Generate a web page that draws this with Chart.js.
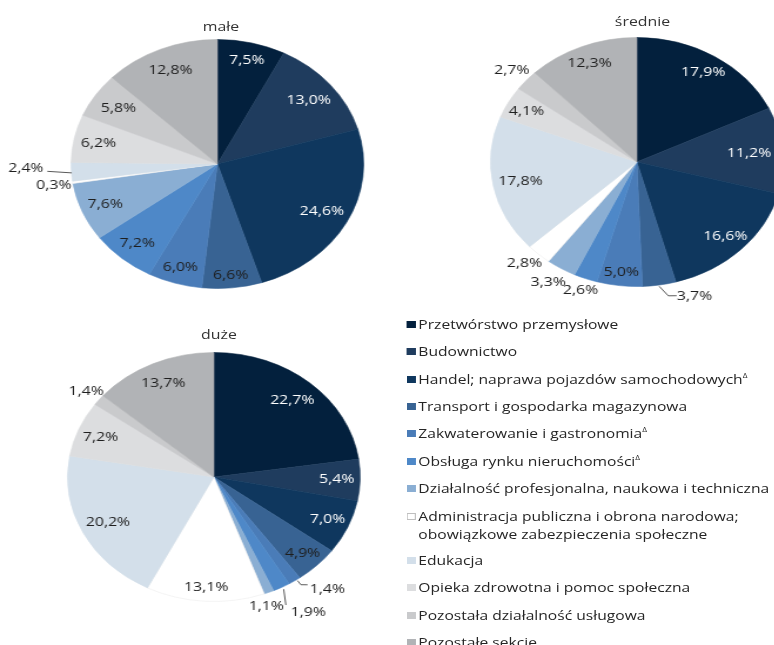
<!DOCTYPE html>
<html><head><meta charset="utf-8">
<script src="https://cdn.jsdelivr.net/npm/chart.js@4.4.0/dist/chart.umd.min.js"></script>
<style>
html,body{margin:0;padding:0;background:#fff;overflow:hidden;width:774px;height:645px;}
#stage{position:absolute;left:0;top:0;width:660px;height:645px;transform:scaleX(1.175);transform-origin:0 0;font-family:"Open Sans",sans-serif;color:#262626;}
.title{position:absolute;font-size:13.5px;transform:translate(-50%,-50%);white-space:nowrap;color:#333;}
canvas{position:absolute;}
.leg{position:absolute;left:356px;font-size:13.3px;line-height:18.5px;white-space:pre;color:#262626;}
.sw{position:absolute;left:-10px;top:6px;width:8px;height:7px;box-sizing:border-box;}
.leg sup{font-size:7px;vertical-align:6px;line-height:0;}
</style></head>
<body>
<div id="stage"></div>
<script>
// ---- data ----
const categories = [
  "Przetwórstwo przemysłowe",
  "Budownictwo",
  "Handel; naprawa pojazdów samochodowychΔ",
  "Transport i gospodarka magazynowa",
  "Zakwaterowanie i gastronomiaΔ",
  "Obsługa rynku nieruchomościΔ",
  "Działalność profesjonalna, naukowa i techniczna",
  "Administracja publiczna i obrona narodowa;\nobowiązkowe zabezpieczenia społeczne",
  "Edukacja",
  "Opieka zdrowotna i pomoc społeczna",
  "Pozostała działalność usługowa",
  "Pozostałe sekcje"
];
const chartTitles = ["małe", "średnie", "duże"];
const maleValues    = [7.5, 13.0, 24.6, 6.6, 6.0, 7.2, 7.6, 0.3, 2.4, 6.2, 5.8, 12.8];
const srednieValues = [17.9, 11.2, 16.6, 3.7, 5.0, 2.6, 3.3, 2.8, 17.8, 4.1, 2.7, 12.3];
const duzeValues    = [22.7, 5.4, 7.0, 4.9, 1.4, 1.9, 1.1, 13.1, 20.2, 7.2, 1.4, 13.7];

// ---- style ----
const colors = ["#03203d","#1f3c5e","#0f375e","#386393","#4a7cb8","#4e88c8","#8aaed3","#ffffff","#d3dfea","#dcdddf","#c9cacc","#b1b3b6"];
const edgeColors = colors.map(c => c === '#ffffff' ? '#ececec' : c);
const S = 1.175; // horizontal stretch of the whole picture
const R = 124.5;

// label placement: radial fraction of the radius at the slice mid-angle, optional angle offset (deg),
// leader lines as [angle clockwise from top (deg), radial fraction]
const placeMale = [0.86,0.81,0.81,0.9,0.87,0.84,0.83,{r:1.13},
  {r:1.31,off:2,lead:[[267.1,1.164],[265.9,0.998]]},0.83,0.81,0.82];
const placeSrednie = [0.85,0.77,0.85,{r:1.15,off:-11.2,lead:[[171.3,1.01],[168.7,1.096],[165.8,1.108]]},
  0.89,{r:1.1},{r:1.14,off:1},{r:1.12,off:1.2},0.81,0.86,{r:1.13},0.86];
const placeDuze = [0.82,0.84,0.85,0.86,{r:1.19,off:-7.2,lead:[[145.5,1.01],[145.5,1.05],[143.5,1.077]]},
  {r:1.26,off:-3.3,lead:[[152.1,1.02],[154.4,1.14]]},{r:1.1,off:3.1},0.89,0.81,0.84,{r:1.11},0.83];

const fmt = v => v.toFixed(1).replace('.', ',') + '%';

const labelPlugin = {
  id: 'sliceLabels',
  afterDatasetsDraw(chart, args, opts) {
    const ctx = chart.ctx;
    const meta = chart.getDatasetMeta(0);
    const data = chart.data.datasets[0].data;
    ctx.save();
    ctx.font = '13.5px "Open Sans"';
    ctx.textAlign = 'center';
    ctx.textBaseline = 'middle';
    meta.data.forEach((arc, i) => {
      const p0 = opts.place[i];
      const p = typeof p0 === 'number' ? {r: p0} : p0;
      const {x, y, startAngle, endAngle, outerRadius} =
        arc.getProps(['x','y','startAngle','endAngle','outerRadius'], true);
      const a = (startAngle + endAngle) / 2 + (p.off || 0) * Math.PI / 180;
      const lx = x + p.r * outerRadius * Math.cos(a);
      const ly = y + p.r * outerRadius * Math.sin(a);
      if (p.lead) {
        ctx.beginPath();
        ctx.strokeStyle = '#595959';
        ctx.lineWidth = 1;
        p.lead.forEach(([deg, f], k) => {
          const aa = (deg - 90) * Math.PI / 180;
          const px = x + f * outerRadius * Math.cos(aa), py = y + f * outerRadius * Math.sin(aa);
          if (k === 0) ctx.moveTo(px, py); else ctx.lineTo(px, py);
        });
        ctx.stroke();
      }
      ctx.fillStyle = i < 3 ? '#ffffff' : '#1e1e1e';
      ctx.fillText(fmt(data[i]), lx, ly);
    });
    ctx.restore();
  }
};

const stage = document.getElementById('stage');
function makePie(values, place, cx, cy, title, tx, ty) {
  const W = 360, H = 310;
  const cv = document.createElement('canvas');
  cv.width = W; cv.height = H;
  cv.style.left = (cx - W / 2) + 'px';
  cv.style.top = (cy - H / 2) + 'px';
  stage.appendChild(cv);
  new Chart(cv, {
    type: 'pie',
    data: {
      labels: categories,
      datasets: [{ data: values, backgroundColor: colors, borderColor: edgeColors, borderWidth: 0.6 }]
    },
    options: {
      responsive: false,
      animation: false,
      radius: R,
      layout: { padding: 0 },
      plugins: {
        legend: { display: false },
        tooltip: { enabled: false },
        sliceLabels: { place }
      }
    },
    plugins: [labelPlugin]
  });
  const t = document.createElement('div');
  t.className = 'title';
  t.textContent = title;
  t.style.left = tx + 'px';
  t.style.top = ty + 'px';
  stage.appendChild(t);
}

makePie(maleValues, placeMale, 217.7 / S, 163.5, chartTitles[0], 221 / S, 26);
makePie(srednieValues, placeSrednie, 636.7 / S, 161.7, chartTitles[1], 642.5 / S, 21);
makePie(duzeValues, placeDuze, 214.3 / S, 476.7, chartTitles[2], 219 / S, 334);

// legend
categories.forEach((c, i) => {
  const d = document.createElement('div');
  d.className = 'leg';
  const center = 324 + i * 27.4 + (i > 7 ? 16.8 : 0);
  d.style.top = (center - 9.25) + 'px';
  const sw = document.createElement('span');
  sw.className = 'sw';
  sw.style.background = colors[i];
  if (colors[i] === '#ffffff') sw.style.border = '1px solid #bfbfbf';
  d.appendChild(sw);
  if (c.endsWith('Δ')) {
    d.appendChild(document.createTextNode(c.slice(0, -1)));
    const s = document.createElement('sup'); s.textContent = 'Δ'; d.appendChild(s);
  } else {
    d.appendChild(document.createTextNode(c));
  }
  stage.appendChild(d);
});
</script>
</body></html>
